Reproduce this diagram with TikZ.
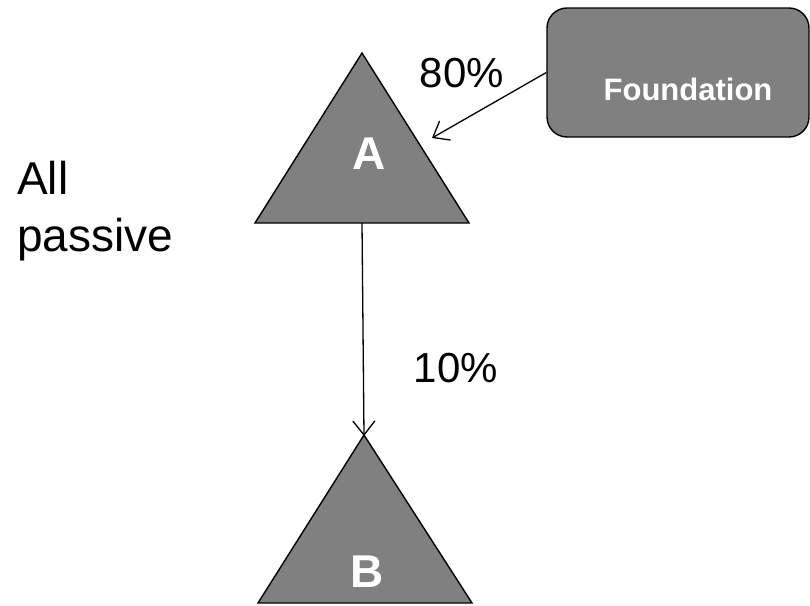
\documentclass[tikz,border=0pt]{standalone}
\usepackage{fontspec}
\setmainfont{Liberation Sans}
\usetikzlibrary{arrows.meta}
\definecolor{shade}{HTML}{808080}
\tikzset{
  tri/.style={fill=shade, draw=black, line width=1.4pt, line join=miter},
  conn/.style={draw=black, line width=1.3pt, -{Straight Barb[length=14pt,width=22pt,line width=1.3pt]}},
  trilabel/.style={text=white, font=\fontsize{46}{54}\selectfont\bfseries, inner sep=0pt, anchor=base},
  plain/.style={text=black, font=\fontsize{42}{54}\selectfont, inner sep=0pt},
  sidetext/.style={text=black, font=\fontsize{46}{57}\selectfont, inner sep=0pt},
  fbox/.style={fill=shade, draw=black, line width=1.4pt, rounded corners=20pt, inner sep=0pt},
  ftext/.style={text=white, font=\fontsize{31}{37}\selectfont\bfseries, inner sep=0pt, anchor=base}
}
\begin{document}
\begin{tikzpicture}[x=1pt, y=-1pt]
  \useasboundingbox (0,0) rectangle (810,605);
  % triangle A
  \coordinate (Atop) at (362,53);
  \coordinate (Aleft) at (255,223);
  \coordinate (Aright) at (469,223);
  \coordinate (Abot) at (362,223);
  \filldraw[tri] (Atop) -- (Aright) -- (Aleft) -- cycle;
  \node[trilabel] (A) at (369,169) {A};
  % triangle B
  \coordinate (Btop) at (364,435);
  \coordinate (Bleft) at (258,603);
  \coordinate (Bright) at (472,603);
  \filldraw[tri] (Btop) -- (Bright) -- (Bleft) -- cycle;
  \node[trilabel] (B) at (367,587) {B};
  % Foundation box
  \node[fbox, minimum width=262pt, minimum height=129pt] (F) at (678,72.5) {};
  \node[ftext] (Ft) at (688,100) {Foundation};
  % connectors
  \coordinate (Atip) at (432,138);
  \draw[conn] (F.west) -- (Atip);
  \draw[conn] (Abot) -- ([yshift=-1pt]Btop);
  % labels
  \node[plain, anchor=base] (p80) at (462,87) {80\%};
  \node[plain, anchor=base] (p10) at (456,382) {10\%};
  \node[sidetext, anchor=west, align=left] (allp) at (17,211) {All\\passive};
\end{tikzpicture}
\end{document}
